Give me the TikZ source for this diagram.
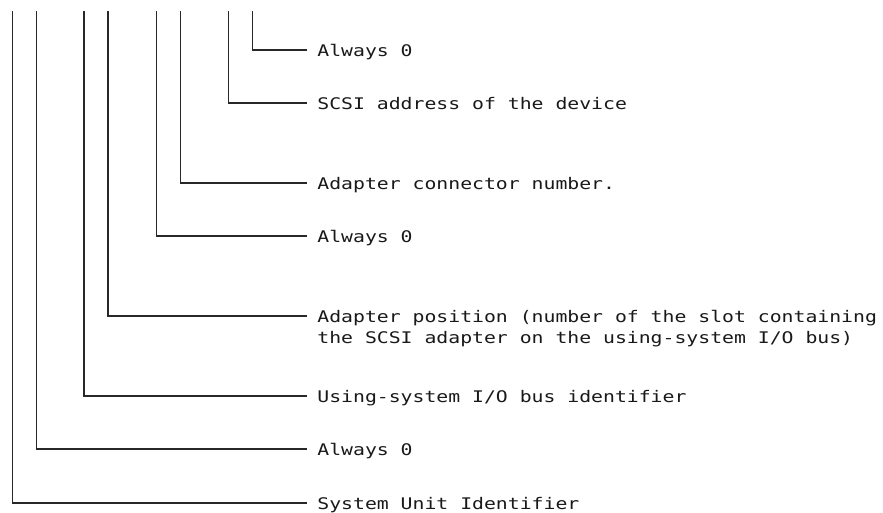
\documentclass[tikz,border=0pt]{standalone}
\definecolor{legline}{RGB}{40, 40, 40}
\definecolor{legtext}{RGB}{25, 25, 25}
\usepackage{fontspec}
\newfontfamily\legfont[FakeStretch=1.236]{DejaVu Sans Mono}
\usepackage{tikz}
\usetikzlibrary{positioning}

\begin{document}
\begin{tikzpicture}[x=0.75pt, y=-0.75pt,
    legend/.style={anchor=west, inner xsep=7.6pt, inner ysep=0pt, text=legtext,
      text height=9.5pt, text depth=0pt,
      font=\legfont\fontsize{12pt}{15.75pt}\selectfont},
    leader/.style={draw=legline, line width=0.95pt}]
  \useasboundingbox (0,0) rectangle (883,512);

  % tops of the vertical leaders
  \coordinate (t1) at (12.5,11);
  \coordinate (t2) at (36.5,11);
  \coordinate (t3) at (84,11);
  \coordinate (t4) at (108,11);
  \coordinate (t5) at (156.5,11);
  \coordinate (t6) at (180.5,11);
  \coordinate (t7) at (228.5,11);
  \coordinate (t8) at (252.5,11);

  % field descriptions
  \node[legend] (f8) at (307,50) {Always 0};
  \node[legend] (f7) at (307,103) {SCSI address of the device};
  \node[legend] (f6) at (307,183) {Adapter connector number.};
  \node[legend] (f5) at (307,236) {Always 0};
  \node[legend] (f4) at (307,316) {Adapter position (number of the slot containing};
  \node[legend] (f4b) at ([yshift=-15.75pt]f4.west) {the SCSI adapter on the using-system I/O bus)};
  \node[legend] (f3) at (307,396) {Using-system I/O bus identifier};
  \node[legend] (f2) at (307,449) {Always 0};
  \node[legend] (f1) at (307,503) {System Unit Identifier};

  % leaders
  \draw[leader] (t1) |- (f1.west);
  \draw[leader] (t2) |- (f2.west);
  \draw[leader] (t3) |- (f3.west);
  \draw[leader] (t4) |- (f4.west);
  \draw[leader] (t5) |- (f5.west);
  \draw[leader] (t6) |- (f6.west);
  \draw[leader] (t7) |- (f7.west);
  \draw[leader] (t8) |- (f8.west);
\end{tikzpicture}
\end{document}
